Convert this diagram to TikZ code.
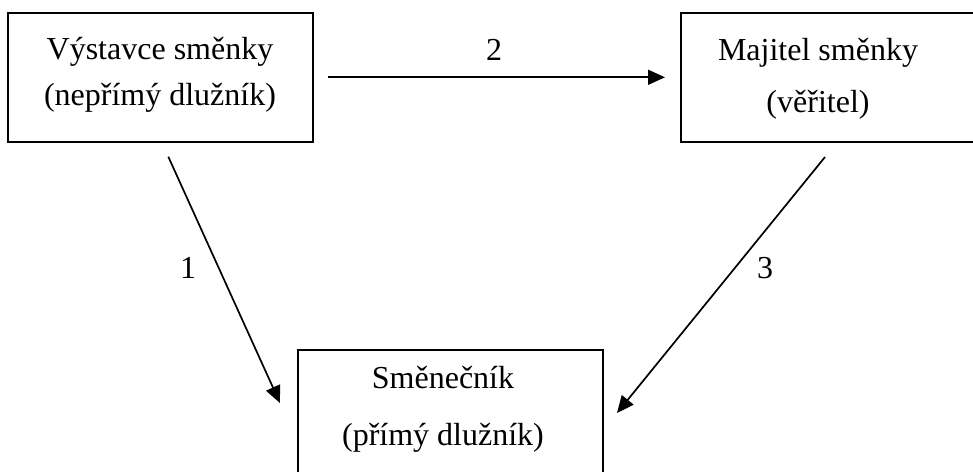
\documentclass[tikz,border=0pt]{standalone}
\usepackage{fontspec}
\setmainfont{Liberation Serif}
\usetikzlibrary{arrows.meta}
\begin{document}
\begin{tikzpicture}[x=1pt,y=-1pt,
  box/.style={draw, line width=2pt, inner sep=0pt},
  lbl/.style={align=center, inner sep=0pt},
  num/.style={font=\fontsize{32}{38}\selectfont, inner sep=0pt},
  arr/.style={line width=1.7pt, -{Triangle[length=17pt,width=15pt]}}]
\clip (0,0) rectangle (973,471);
\useasboundingbox (0,0) rectangle (973,471);
\fill[white] (0,0) rectangle (973,471);
% boxes
\node[box, minimum width=305pt, minimum height=129pt] (b1) at (160.5,77.5) {};
\node[box, minimum width=300pt, minimum height=129pt, anchor=west] (b2) at (680,77.5) {};
\node[box, minimum width=305pt, minimum height=140pt, anchor=north west] (b3) at (297,349) {};
% texts
\node[lbl, font=\fontsize{32}{46}\selectfont] (t1) at (160,75) {Výstavce směnky\\(nepřímý dlužník)};
\node[lbl, font=\fontsize{32}{52}\selectfont] (t2) at (818,79) {Majitel směnky\\(věřitel)};
\node[lbl, font=\fontsize{32}{57}\selectfont] (t3) at (443,409) {Směnečník\\(přímý dlužník)};
% connector end points
\coordinate (a2s) at (328,77.3);
\coordinate (a2e) at (665,77.3);
\coordinate (a1s) at (168.3,156.7);
\coordinate (a1e) at (280,403);
\coordinate (a3s) at (825,157);
\coordinate (a3e) at (617,413);
\draw[arr] (a2s) -- (a2e);
\draw[arr] (a1s) -- (a1e);
\draw[arr] (a3s) -- (a3e);
% labels
\node[num] (n2) at (494,50) {2};
\node[num] (n1) at (188,268) {1};
\node[num] (n3) at (765,268) {3};
\end{tikzpicture}
\end{document}
